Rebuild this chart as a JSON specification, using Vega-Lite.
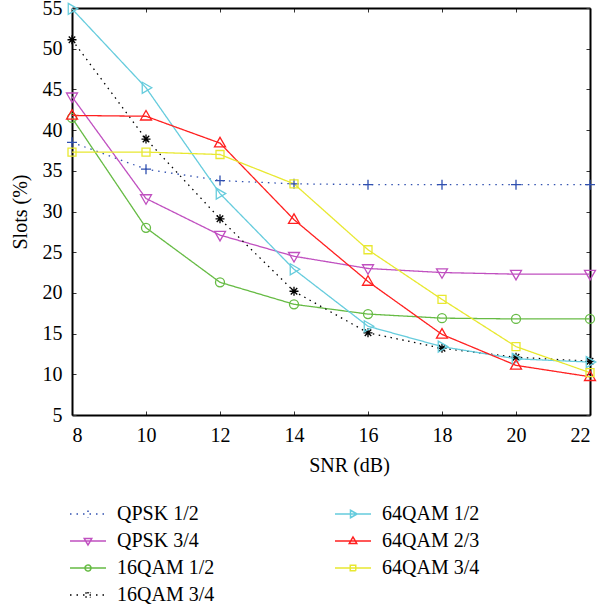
{
  "$schema": "https://vega.github.io/schema/vega-lite/v6.json",
  "width": 518,
  "height": 407,
  "autosize": {"type": "none"},
  "padding": {"left": 72, "top": 8, "right": 13, "bottom": 192},
  "background": "white",
  "config": {
    "font": "Liberation Serif",
    "view": {"stroke": null},
    "legend": {
      "orient": "none", "legendX": 6, "legendY": 496, "columns": 2, "columnPadding": 117, "rowPadding": 7,
      "symbolSize": 100, "labelOffset": 19, "labelFontSize": 20, "labelFont": "Liberation Serif", "labelColor": "black",
      "labelLimit": 300, "symbolStrokeWidth": 1.5, "symbolOpacity": 1
    }
  },
  "data": {
    "values": [
      {"series": "QPSK 1/2", "snr": 8, "slots": 38.5},
      {"series": "QPSK 1/2", "snr": 10, "slots": 35.2},
      {"series": "QPSK 1/2", "snr": 12, "slots": 33.8},
      {"series": "QPSK 1/2", "snr": 14, "slots": 33.4},
      {"series": "QPSK 1/2", "snr": 16, "slots": 33.3},
      {"series": "QPSK 1/2", "snr": 18, "slots": 33.3},
      {"series": "QPSK 1/2", "snr": 20, "slots": 33.3},
      {"series": "QPSK 1/2", "snr": 22, "slots": 33.3},
      {"series": "QPSK 3/4", "snr": 8, "slots": 44.1},
      {"series": "QPSK 3/4", "snr": 10, "slots": 31.6},
      {"series": "QPSK 3/4", "snr": 12, "slots": 27.1},
      {"series": "QPSK 3/4", "snr": 14, "slots": 24.5},
      {"series": "QPSK 3/4", "snr": 16, "slots": 23.0},
      {"series": "QPSK 3/4", "snr": 18, "slots": 22.5},
      {"series": "QPSK 3/4", "snr": 20, "slots": 22.3},
      {"series": "QPSK 3/4", "snr": 22, "slots": 22.3},
      {"series": "16QAM 1/2", "snr": 8, "slots": 41.5},
      {"series": "16QAM 1/2", "snr": 10, "slots": 28.0},
      {"series": "16QAM 1/2", "snr": 12, "slots": 21.3},
      {"series": "16QAM 1/2", "snr": 14, "slots": 18.6},
      {"series": "16QAM 1/2", "snr": 16, "slots": 17.4},
      {"series": "16QAM 1/2", "snr": 18, "slots": 16.9},
      {"series": "16QAM 1/2", "snr": 20, "slots": 16.8},
      {"series": "16QAM 1/2", "snr": 22, "slots": 16.8},
      {"series": "16QAM 3/4", "snr": 8, "slots": 51.1},
      {"series": "16QAM 3/4", "snr": 10, "slots": 38.9},
      {"series": "16QAM 3/4", "snr": 12, "slots": 29.1},
      {"series": "16QAM 3/4", "snr": 14, "slots": 20.2},
      {"series": "16QAM 3/4", "snr": 16, "slots": 15.1},
      {"series": "16QAM 3/4", "snr": 18, "slots": 13.2},
      {"series": "16QAM 3/4", "snr": 20, "slots": 12.1},
      {"series": "16QAM 3/4", "snr": 22, "slots": 11.6},
      {"series": "64QAM 1/2", "snr": 8, "slots": 54.9},
      {"series": "64QAM 1/2", "snr": 10, "slots": 45.2},
      {"series": "64QAM 1/2", "snr": 12, "slots": 32.2},
      {"series": "64QAM 1/2", "snr": 14, "slots": 22.9},
      {"series": "64QAM 1/2", "snr": 16, "slots": 15.9},
      {"series": "64QAM 1/2", "snr": 18, "slots": 13.4},
      {"series": "64QAM 1/2", "snr": 20, "slots": 11.9},
      {"series": "64QAM 1/2", "snr": 22, "slots": 11.5},
      {"series": "64QAM 2/3", "snr": 8, "slots": 41.8},
      {"series": "64QAM 2/3", "snr": 10, "slots": 41.7},
      {"series": "64QAM 2/3", "snr": 12, "slots": 38.4},
      {"series": "64QAM 2/3", "snr": 14, "slots": 29.0},
      {"series": "64QAM 2/3", "snr": 16, "slots": 21.4},
      {"series": "64QAM 2/3", "snr": 18, "slots": 14.9},
      {"series": "64QAM 2/3", "snr": 20, "slots": 11.1},
      {"series": "64QAM 2/3", "snr": 22, "slots": 9.7},
      {"series": "64QAM 3/4", "snr": 8, "slots": 37.3},
      {"series": "64QAM 3/4", "snr": 10, "slots": 37.3},
      {"series": "64QAM 3/4", "snr": 12, "slots": 37.0},
      {"series": "64QAM 3/4", "snr": 14, "slots": 33.4},
      {"series": "64QAM 3/4", "snr": 16, "slots": 25.3},
      {"series": "64QAM 3/4", "snr": 18, "slots": 19.2},
      {"series": "64QAM 3/4", "snr": 20, "slots": 13.4},
      {"series": "64QAM 3/4", "snr": 22, "slots": 10.2}
    ]
  },
  "resolve": {
    "axis": {"x": "independent", "y": "independent"},
    "scale": {"shape": "independent", "color": "independent", "strokeDash": "independent"}
  },
  "layer": [
    {
      "mark": {"type": "line", "strokeWidth": 1.3},
      "encoding": {
        "x": {"field": "snr", "type": "quantitative", "scale": {"domain": [8, 22], "nice": false},
              "axis": {"values": [8, 10, 12, 14, 16, 18, 20, 22], "title": "SNR (dB)", "grid": false,
                       "domainColor": "black", "domainWidth": 2, "tickColor": "#333333", "tickWidth": 1, "tickSize": -4,
                       "labelFont": "Liberation Serif", "labelFontSize": 20, "labelColor": "black", "labelPadding": 14,
                       "titleFont": "Liberation Serif", "titleFontSize": 20, "titleFontWeight": "normal", "titleColor": "black",
                       "titlePadding": 10, "titleX": 277}},
        "y": {"field": "slots", "type": "quantitative", "scale": {"domain": [5, 55], "nice": false, "zero": false},
              "axis": {"values": [5, 10, 15, 20, 25, 30, 35, 40, 45, 50, 55], "title": "Slots (%)", "grid": false,
                       "domainColor": "black", "domainWidth": 2, "tickColor": "#333333", "tickWidth": 1, "tickSize": -4,
                       "labelFont": "Liberation Serif", "labelFontSize": 20, "labelColor": "black", "labelPadding": 14,
                       "titleFont": "Liberation Serif", "titleFontSize": 20, "titleFontWeight": "normal", "titleColor": "black",
                       "titlePadding": 12}},
        "color": {"field": "series", "type": "nominal",
          "scale": {"domain": ["QPSK 1/2", "QPSK 3/4", "16QAM 1/2", "16QAM 3/4", "64QAM 1/2", "64QAM 2/3", "64QAM 3/4"],
                    "range": ["#3050b0", "#c050c0", "#66bb44", "#000000", "#66ccdd", "#ff2020", "#e8e830"]},
          "legend": null},
        "strokeDash": {"field": "series", "type": "nominal",
          "scale": {"domain": ["QPSK 1/2", "QPSK 3/4", "16QAM 1/2", "16QAM 3/4", "64QAM 1/2", "64QAM 2/3", "64QAM 3/4"],
                    "range": [[1.5, 5], [1, 0], [1, 0], [1.5, 4.5], [1, 0], [1, 0], [1, 0]]},
          "legend": null}
      }
    },
    {
      "mark": {"type": "point", "filled": false, "strokeWidth": 1.3, "size": 100, "opacity": 1},
      "encoding": {
        "x": {"field": "snr", "type": "quantitative",
              "axis": {"orient": "top", "values": [8, 10, 12, 14, 16, 18, 20, 22], "labels": false, "title": null, "grid": false,
                       "domainColor": "black", "domainWidth": 2, "tickColor": "#333333", "tickWidth": 1, "tickSize": -4}},
        "y": {"field": "slots", "type": "quantitative",
              "axis": {"orient": "right", "values": [5, 10, 15, 20, 25, 30, 35, 40, 45, 50, 55], "labels": false, "title": null, "grid": false,
                       "domainColor": "black", "domainWidth": 2, "tickColor": "#333333", "tickWidth": 1, "tickSize": -4}},
        "color": {"field": "series", "type": "nominal",
          "scale": {"domain": ["QPSK 1/2", "QPSK 3/4", "16QAM 1/2", "16QAM 3/4", "64QAM 1/2", "64QAM 2/3", "64QAM 3/4"],
                    "range": ["#3050b0", "#c050c0", "#66bb44", "#000000", "#66ccdd", "#ff2020", "#e8e830"]},
          "legend": null},
        "shape": {"field": "series", "type": "nominal",
          "scale": {"domain": ["QPSK 1/2", "QPSK 3/4", "16QAM 1/2", "16QAM 3/4", "64QAM 1/2", "64QAM 2/3", "64QAM 3/4"],
                    "range": ["M-1,0H1M0,-1V1", "M-1.1,-0.75H1.1L0,1.15Z", "M0.9,0A0.9,0.9 0 1,1 -0.9,0A0.9,0.9 0 1,1 0.9,0Z", "M-0.9,0H0.9M0,-0.9V0.9M-0.65,-0.65L0.65,0.65M-0.65,0.65L0.65,-0.65", "M-0.75,-1.1L1.15,0L-0.75,1.1Z", "M-1.1,0.75H1.1L0,-1.15Z", "M-0.8,-0.8H0.8V0.8H-0.8Z"]},
          "legend": null}
      }
    },
    {
      "transform": [{"filter": "datum.snr < 0"}],
      "mark": {"type": "point", "filled": false, "strokeWidth": 1.3, "size": 100},
      "encoding": {
        "x": {"field": "snr", "type": "quantitative", "axis": null},
        "y": {"field": "slots", "type": "quantitative", "axis": null},
        "color": {"field": "series", "type": "nominal",
          "scale": {"domain": ["QPSK 1/2", "QPSK 3/4", "16QAM 1/2", "16QAM 3/4", "64QAM 1/2", "64QAM 2/3", "64QAM 3/4"],
                    "range": ["#3050b0", "#c050c0", "#66bb44", "#000000", "#66ccdd", "#ff2020", "#e8e830"]},
          "legend": {"title": null}},
        "strokeDash": {"field": "series", "type": "nominal",
          "scale": {"domain": ["QPSK 1/2", "QPSK 3/4", "16QAM 1/2", "16QAM 3/4", "64QAM 1/2", "64QAM 2/3", "64QAM 3/4"],
                    "range": [[1.5, 5], [1, 0], [1, 0], [1.5, 5], [1, 0], [1, 0], [1, 0]]},
          "legend": {"title": null}},
        "shape": {"field": "series", "type": "nominal",
          "scale": {"domain": ["QPSK 1/2", "QPSK 3/4", "16QAM 1/2", "16QAM 3/4", "64QAM 1/2", "64QAM 2/3", "64QAM 3/4"],
                    "range": ["M-3.6,0H3.6M0,-0.7V0.7", "M-3.6,0H3.6M-0.75,-0.5H0.75L0,0.8Z", "M-3.6,0H3.6M0.6,0A0.6,0.6 0 1,1 -0.6,0A0.6,0.6 0 1,1 0.6,0Z", "M-3.6,0H3.6M0,-0.6V0.6M-0.5,-0.5L0.5,0.5M-0.5,0.5L0.5,-0.5", "M-3.6,0H3.6M-0.5,-0.75L0.8,0L-0.5,0.75Z", "M-3.6,0H3.6M-0.75,0.5H0.75L0,-0.8Z", "M-3.6,0H3.6M-0.55,-0.55H0.55V0.55H-0.55Z"]},
          "legend": {"title": null}}
      }
    }
  ]
}
